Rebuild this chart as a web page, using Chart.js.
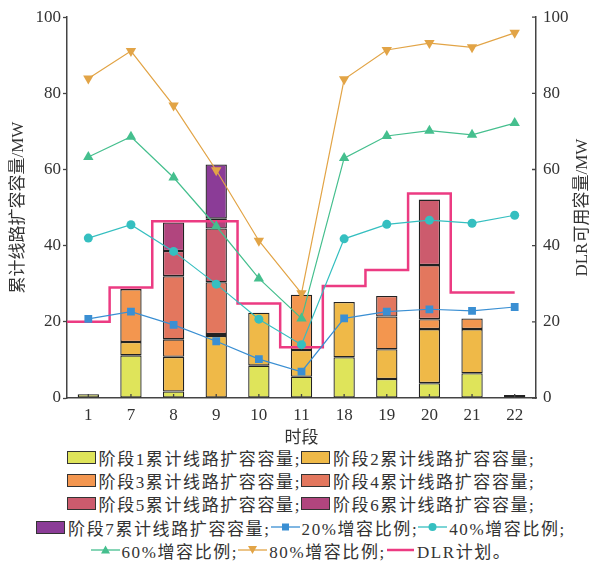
<!DOCTYPE html>
<html>
<head>
<meta charset="utf-8">
<script src="https://cdn.jsdelivr.net/npm/chart.js@4/dist/chart.umd.min.js"></script>
<style>
  body { margin: 0; background: #fff; font-family: 'Liberation Serif', 'Noto Sans CJK SC', serif; color: #333; }
  #wrap { width: 602px; height: 564px; position: relative; }
  #chartBox { width: 602px; height: 446px; position: relative; }
  .row { display: flex; justify-content: center; align-items: center; height: 23.2px; font-size: 17px; letter-spacing: 1.6px; white-space: nowrap; }
  .box { width: 27px; height: 11px; border: 1.5px solid #333; margin-right: 3px; flex: none; }
  .sym { width: 29px; height: 14px; margin-right: 2px; flex: none; }
</style>
</head>
<body>
<div id="wrap">
  <div id="chartBox"><canvas id="dlrChart"></canvas></div>
  <div id="legend"></div>
</div>
<script>
const slots = ["1", "7", "8", "9", "10", "11", "18", "19", "20", "21", "22"];

// expansion added in each stage (MW), stacked per time slot
const stage1 = [1.0, 11.2, 1.7, null, 8.5, 5.6, 10.7, 5.0, 3.9, 6.5, 0.8];
const stage2 = [null, 3.5, 9.1, 16.3, 13.9, 7.0, 14.5, 7.8, 14.2, 11.6, null];
const stage3 = [null, 13.9, 4.6, 0.5, null, 14.5, null, 8.6, 2.6, 2.8, null];
const stage4 = [null, null, 16.6, 13.6, null, null, null, 5.4, 14.2, null, null];
const stage5 = [null, null, 6.6, 14.1, null, null, null, null, 17.2, null, null];
const stage6 = [null, null, 7.5, 2.6, null, null, null, null, null, null, null];
const stage7 = [null, null, null, 14.2, null, null, null, null, null, null, null];

// DLR available capacity (MW) under each uprating ratio
const ratio20 = [20.8, 22.7, 19.2, 14.9, 10.2, 6.9, 20.9, 22.7, 23.3, 22.9, 23.9];
const ratio40 = [42.0, 45.5, 38.5, 29.9, 20.7, 14.0, 41.8, 45.6, 46.7, 45.9, 48.0];
const ratio60 = [63.3, 68.6, 57.9, 45.1, 31.4, 20.9, 63.0, 68.8, 70.2, 69.1, 72.2];
const ratio80 = [83.9, 91.1, 76.8, 59.8, 41.3, 27.5, 83.7, 91.4, 93.2, 92.1, 95.9];

// planned DLR capacity per slot
const dlrPlan = [20.0, 29.0, 46.4, 46.4, 24.8, 13.3, 29.4, 33.6, 53.7, 27.7, 27.7];

const yTicks = [0, 20, 40, 60, 80, 100];

const stages = [stage1, stage2, stage3, stage4, stage5, stage6, stage7];
const stageColors = ["#dfe45a", "#efb948", "#f3964f", "#e3775e", "#cc5b6d", "#b1457e", "#8b3c97"];
const stageNames = stages.map((s, i) => "阶段" + (i + 1) + "累计线路扩容容量");

const ratioSets = [
  { name: "20%增容比例", data: ratio20, color: "#3a8fd3", style: "rect", radius: 5.5, rot: 0 },
  { name: "40%增容比例", data: ratio40, color: "#35bfc0", style: "circle", radius: 4.5, rot: 0 },
  { name: "60%增容比例", data: ratio60, color: "#45bf8e", style: "triangle", radius: 6, rot: 0 },
  { name: "80%增容比例", data: ratio80, color: "#e2a446", style: "triangle", radius: 6, rot: 180 }
];
const dlrColor = "#ec3b82";

const FONT = "'Liberation Serif', 'Noto Sans CJK SC', serif";
const INK = "#333";
const AXIS = "#444";

const datasets = [];
stages.forEach((s, i) => {
  datasets.push({
    type: "bar",
    label: stageNames[i],
    data: s,
    backgroundColor: stageColors[i],
    borderColor: "#222",
    borderWidth: 1.3,
    borderSkipped: false,
    grouped: false,
    stack: "exp",
    order: 2
  });
});
ratioSets.forEach(r => {
  datasets.push({
    type: "line",
    label: r.name,
    data: r.data,
    yAxisID: "y2",
    borderColor: r.color,
    backgroundColor: r.color,
    borderWidth: 1.2,
    pointStyle: r.style,
    pointRadius: r.radius,
    pointRotation: r.rot,
    pointBorderWidth: 0,
    order: 0
  });
});

// step edges sit halfway between slots; the plan starts at the left edge
const dlrPoints = dlrPlan.map((v, i) => ({ x: i - 0.5, y: v }));
dlrPoints.push({ x: dlrPlan.length - 1, y: dlrPlan[dlrPlan.length - 1] });
datasets.push({
  type: "line",
  label: "DLR计划",
  data: dlrPoints,
  xAxisID: "xd",
  yAxisID: "y2",
  borderColor: dlrColor,
  borderWidth: 2.5,
  pointRadius: 0,
  stepped: "before",
  order: 1
});

const axisMarks = {
  id: "axisMarks",
  afterDraw(chart) {
    const { ctx, chartArea, scales } = chart;
    ctx.save();
    ctx.strokeStyle = AXIS;
    ctx.lineWidth = 1.3;
    ctx.beginPath();
    scales.x.ticks.forEach((t, i) => {
      const x = scales.x.getPixelForTick(i);
      ctx.moveTo(x, chartArea.bottom);
      ctx.lineTo(x, chartArea.bottom - 4);
    });
    scales.y2.ticks.forEach((t, i) => {
      const y = scales.y2.getPixelForTick(i);
      ctx.moveTo(chartArea.right, y);
      ctx.lineTo(chartArea.right - 4, y);
    });
    ctx.stroke();

    // right title reads bottom-to-top, same as the left one
    ctx.translate(scales.y2.right - 19, (chartArea.top + chartArea.bottom) / 2);
    ctx.rotate(-Math.PI / 2);
    ctx.fillStyle = INK;
    ctx.font = "17px " + FONT;
    ctx.textAlign = "center";
    ctx.textBaseline = "middle";
    ctx.fillText("DLR可用容量/MW", 0, 0);
    ctx.restore();
  }
};

new Chart(document.getElementById("dlrChart"), {
  type: "bar",
  data: { labels: slots, datasets: datasets },
  options: {
    responsive: true,
    maintainAspectRatio: false,
    animation: false,
    layout: { padding: { top: 16, left: 0, right: 0, bottom: 0 } },
    datasets: { bar: { categoryPercentage: 1, barPercentage: 0.5 } },
    plugins: { legend: { display: false }, tooltip: { enabled: false } },
    scales: {
      x: {
        stacked: true,
        grid: { display: false, drawTicks: false },
        border: { display: true, color: AXIS, width: 1.5 },
        ticks: { color: INK, font: { family: FONT, size: 17 }, padding: 7 },
        title: { display: true, text: "时段", color: INK, font: { family: FONT, size: 17 }, padding: { top: 0, bottom: -3 } },
        afterFit: s => { s.height = 48; }
      },
      xd: {
        type: "linear",
        display: false,
        offset: false,
        min: -0.5,
        max: slots.length - 0.5
      },
      y: {
        stacked: true,
        min: 0,
        max: 100,
        afterBuildTicks: s => { s.ticks = yTicks.map(v => ({ value: v })); },
        grid: { drawOnChartArea: false, drawTicks: true, tickLength: 4, tickColor: AXIS, tickWidth: 1.3 },
        border: { display: true, color: AXIS, width: 1.5 },
        ticks: { color: INK, font: { family: FONT, size: 17 }, padding: 2 },
        title: { display: true, text: "累计线路扩容容量/MW", color: INK, font: { family: FONT, size: 17 }, padding: { top: 8, bottom: 0 } },
        afterFit: s => { s.width = 67; }
      },
      y2: {
        position: "right",
        min: 0,
        max: 100,
        afterBuildTicks: s => { s.ticks = yTicks.map(v => ({ value: v })); },
        grid: { drawOnChartArea: false, drawTicks: false },
        border: { display: true, color: AXIS, width: 1.5 },
        ticks: { color: INK, font: { family: FONT, size: 17 }, padding: 7 },
        afterFit: s => { s.width = 66; }
      }
    }
  },
  plugins: [axisMarks]
});

// legend below the chart, laid out in fixed rows
function symbolSvg(r) {
  let mark = "";
  if (r.style === "rect") mark = `<rect x="11" y="3.5" width="7" height="7" fill="${r.color}"/>`;
  else if (r.style === "circle") mark = `<circle cx="14.5" cy="7" r="4" fill="${r.color}"/>`;
  else if (r.rot === 180) mark = `<polygon points="10,3 19,3 14.5,11" fill="${r.color}"/>`;
  else mark = `<polygon points="14.5,2.5 10,10.5 19,10.5" fill="${r.color}"/>`;
  return `<svg class="sym" viewBox="0 0 29 14"><line x1="0" y1="7" x2="29" y2="7" stroke="${r.color}" stroke-width="1.3"/>${mark}</svg>`;
}
const boxItem = i => `<span class="box" style="background:${stageColors[i]}"></span><span>${stageNames[i]};</span>`;
const lineItem = i => symbolSvg(ratioSets[i]) + `<span>${ratioSets[i].name};</span>`;
const dlrItem = `<svg class="sym" viewBox="0 0 29 14"><line x1="1" y1="7" x2="28" y2="7" stroke="${dlrColor}" stroke-width="2.5"/></svg><span>DLR计划。</span>`;

const rows = [
  boxItem(0) + boxItem(1),
  boxItem(2) + boxItem(3),
  boxItem(4) + boxItem(5),
  boxItem(6) + lineItem(0) + lineItem(1),
  lineItem(2) + lineItem(3) + dlrItem
];
document.getElementById("legend").innerHTML = rows.map(r => `<div class="row">${r}</div>`).join("");
</script>
</body>
</html>
